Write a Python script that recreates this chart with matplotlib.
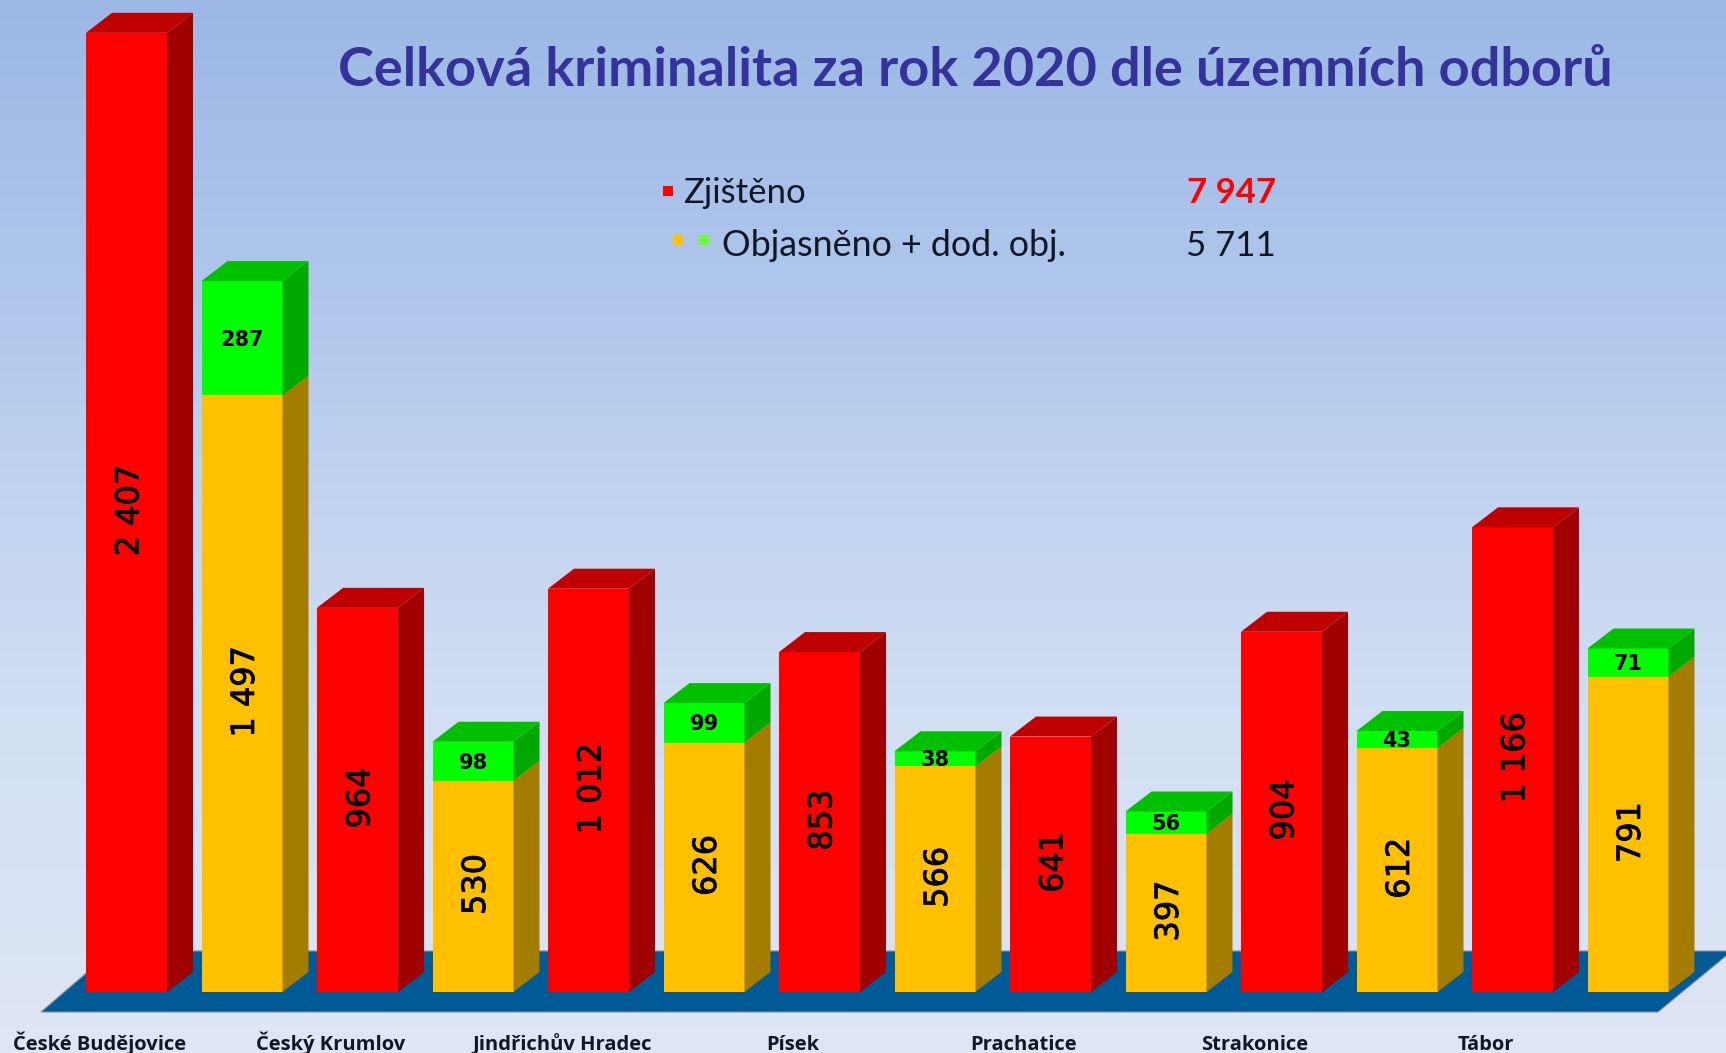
import matplotlib
matplotlib.use('Agg')
import matplotlib.pyplot as plt
import matplotlib.patheffects as pe
import numpy as np
from matplotlib.colors import LinearSegmentedColormap

districts = ['České Budějovice', 'Český Krumlov', 'Jindřichův Hradec', 'Písek', 'Prachatice', 'Strakonice', 'Tábor']
zjisteno = [2407, 964, 1012, 853, 641, 904, 1166]
objasneno = [1497, 530, 626, 566, 397, 612, 791]
dod_obj = [287, 98, 99, 38, 56, 43, 71]
title = 'Celková kriminalita za rok 2020 dle územních odborů'
total_zjisteno = 7947
total_objasneno = 5711

W, H = 1726, 1053
PX_STEP = 115.5      # pixels per bar slot
PX_UNIT = 0.3985     # pixels per case
DEPTH_X = 26 / PX_STEP
DEPTH_Y = 20 / PX_UNIT
BAR_W = 81 / PX_STEP

plt.rcParams['font.family'] = ['DejaVu Sans']
heavy = [pe.withStroke(linewidth=0.6, foreground='black')]


def fmt(v):
    return f'{v:,}'.replace(',', ' ')


def box(ax, x, y0, y1, front, side, top=None):
    ax.bar(x, y1 - y0, BAR_W, bottom=y0, color=front, zorder=3)
    r = x + BAR_W / 2
    l = x - BAR_W / 2
    ax.fill([r, r + DEPTH_X, r + DEPTH_X, r], [y0, y0 + DEPTH_Y, y1 + DEPTH_Y, y1], color=side, lw=0, zorder=3)
    if top:
        ax.fill([l, r, r + DEPTH_X, l + DEPTH_X], [y1, y1, y1 + DEPTH_Y, y1 + DEPTH_Y], color=top, lw=0, zorder=3)


fig = plt.figure(figsize=(W / 100, H / 100), dpi=100)
ax = fig.add_axes([0, 0, 1, 1])
ax.set_xlim(-126.5 / PX_STEP, (W - 126.5) / PX_STEP)
ax.set_ylim(-(H - 992) / PX_UNIT, 992 / PX_UNIT)
ax.axis('off')

# background gradient
cmap = LinearSegmentedColormap.from_list('bg', [(0, '#9db8e6'), (0.3, '#b2c8ec'), (0.65, '#d0def3'), (1, '#dfe6f5')])
x0, x1 = ax.get_xlim()
y0, y1 = ax.get_ylim()
ax.imshow(np.linspace(0, 1, 256)[:, None], cmap=cmap, aspect='auto', extent=[x0, x1, y0, y1], origin='upper', zorder=0, vmin=0, vmax=1)

# floor
fl = -20 / PX_UNIT
bk = 41 / PX_UNIT
ax.fill([(41 - 126.5) / PX_STEP, (1658 - 126.5) / PX_STEP, (1732 - 126.5) / PX_STEP, (112 - 126.5) / PX_STEP],
        [fl, fl, bk, bk], color='#005a96', ec='#8a8f98', lw=0.8, zorder=1)

for i in range(len(districts)):
    xr = 2 * i
    xo = 2 * i + 1
    box(ax, xr, 0, zjisteno[i], '#ff0000', '#a00000', '#bf0000')
    ax.text(xr + 0.03, zjisteno[i] / 2 + 5, fmt(zjisteno[i]), rotation=90, ha='center', va='center', fontsize=23, color='black', zorder=5, path_effects=heavy)
    box(ax, xo, 0, objasneno[i], '#ffc000', '#a37c00')
    box(ax, xo, objasneno[i], objasneno[i] + dod_obj[i], '#00ff00', '#00a800', '#00c000')
    ax.text(xo + 0.03, objasneno[i] / 2 + 5, fmt(objasneno[i]), rotation=90, ha='center', va='center', fontsize=23, color='black', zorder=5, path_effects=heavy)
    ax.text(xo, objasneno[i] + dod_obj[i] / 2 - 4, fmt(dod_obj[i]), ha='center', va='center', fontsize=15, fontweight='bold', color='black', zorder=5)
    ax.text(2 * i - 0.23, -0.002, districts[i], transform=ax.get_xaxis_transform(), ha='center', va='bottom', fontsize=14.5, fontweight='bold', family='Open Sans', color='#101828', zorder=5)

ax.text(975 / W, 1 - 70 / H, title, transform=ax.transAxes, ha='center', va='center', fontsize=39, fontweight='bold', family='Lato', color='#333399', zorder=5)

ax.text(683 / W, 1 - 203 / H, 'Zjištěno', transform=ax.transAxes, va='baseline', fontsize=25, family='Lato', color='#101828')
ax.text(722 / W, 1 - 256 / H, 'Objasněno + dod. obj.', transform=ax.transAxes, va='baseline', fontsize=25.8, family='Lato', color='#101828')
ax.text(1276 / W, 1 - 203 / H, fmt(total_zjisteno), transform=ax.transAxes, ha='right', va='baseline', fontsize=25, fontweight='bold', family='Lato', color='#ff0000')
ax.text(1276 / W, 1 - 256 / H, fmt(total_objasneno), transform=ax.transAxes, ha='right', va='baseline', fontsize=25, family='Lato', color='#101828')
ax.scatter([668 / W, 678 / W, 704 / W], [1 - 191 / H, 1 - 240 / H, 1 - 240 / H], s=50, marker='s', c=['#ff0000', '#ffc000', '#66ff33'], linewidths=0, transform=ax.transAxes, zorder=5)

plt.savefig('out.png', dpi=100)
